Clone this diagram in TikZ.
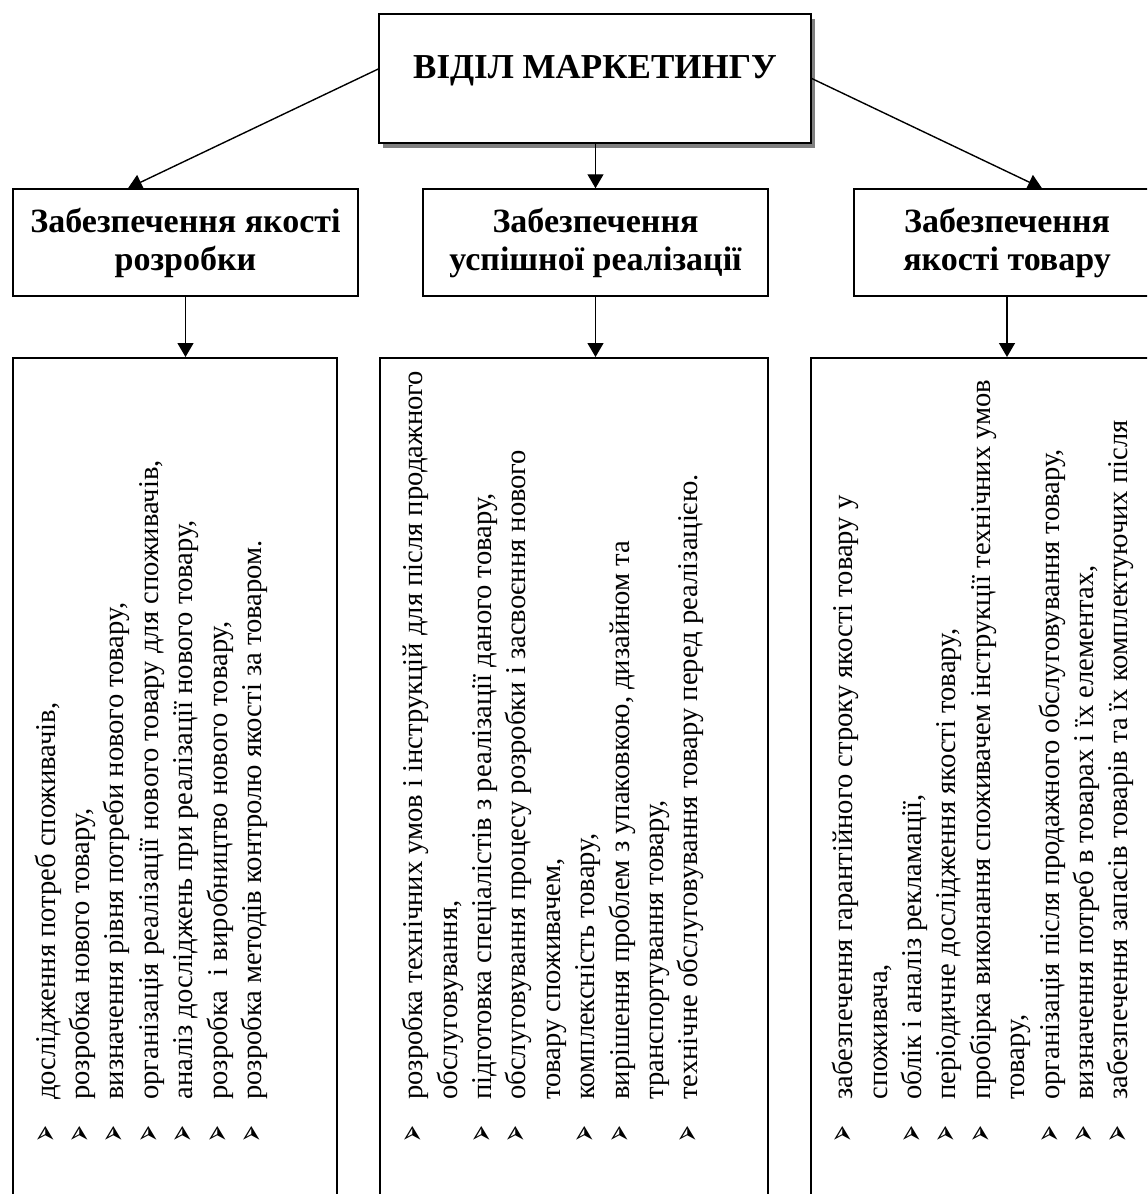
\documentclass[tikz,border=0pt]{standalone}
\usepackage{fontspec}
\setmainfont{Liberation Serif}
\newfontfamily\symfont{DejaVu Sans}
\usetikzlibrary{positioning,shadows,arrows.meta}

\newcommand{\itm}{\raisebox{-1pt}{\resizebox{8.5pt}{10pt}{\symfont\char"27A2}}}
\tikzset{
  box/.style={draw, line width=0.75pt, inner sep=0pt},
  headbox/.style={box, minimum width=172.5pt, minimum height=53.5pt, align=center,
    font=\bfseries\fontsize{17}{19}\selectfont},
  listbox/.style={box, anchor=north, minimum height=450pt},
  listtext/.style={rotate=90, anchor=west, inner sep=0pt, font=\fontsize{14.3}{17.2}\selectfont},
  link/.style={-{Triangle[length=7pt,width=8pt]}, line width=0.7pt},
}

\begin{document}
\begin{tikzpicture}[x=0.5pt, y=-0.5pt]
  \useasboundingbox (0,0) rectangle (1147,1194);
  \clip (0,0) rectangle (1147,1194);
  % top box
  \node[box, fill=white, minimum width=216pt, minimum height=64.5pt,
    text height=12pt, text depth=12pt, font=\bfseries\fontsize{17.5}{19}\selectfont,
    drop shadow={shadow xshift=2.2pt, shadow yshift=-2.5pt, fill=gray, opacity=1}]
    (market) at (595,78.5) {ВІДІЛ МАРКЕТИНГУ};
  % second level
  \node[headbox] (devq) at (185.5,242.5) {Забезпечення якості\\розробки};
  \node[headbox] (sale) at (595.5,242.5) {Забезпечення\\успішної реалізації};
  \node[headbox, minimum width=153pt] (prodq) at (1007,242.5) {Забезпечення\\якості товару};
  % lists
  \node[listbox, minimum width=162pt] (devlist) at (175,357) {};
  \node[listbox, minimum width=194pt] (salelist) at (574,357) {};
  \node[listbox, minimum width=200pt] (prodlist) at (1011,357) {};

  \node[listtext] (devtext) at (151.5,1143) {%
    \begin{tabular}{@{}p{21.5pt}@{}l@{}}
      \itm & дослідження потреб споживачів,\\
      \itm & розробка нового товару,\\
      \itm & визначення рівня потреби нового товару,\\
      \itm & організація реалізації нового товару для споживачів,\\
      \itm & аналіз досліджень при реалізації нового товару,\\
      \itm & розробка\ \ і виробництво нового товару,\\
      \itm & розробка методів контролю якості за товаром.
    \end{tabular}};
  \node[listtext] (saletext) at (553.5,1143) {%
    \begin{tabular}{@{}p{21.5pt}@{}l@{}}
      \itm & розробка технічних умов і інструкцій для після продажного\\
           & обслуговування,\\
      \itm & підготовка спеціалістів з реалізації даного товару,\\
      \itm & обслуговування процесу розробки і засвоєння нового\\
           & товару споживачем,\\
      \itm & комплексність товару,\\
      \itm & вирішення проблем з упаковкою, дизайном та\\
           & транспортування товару,\\
      \itm & технічне обслуговування товару перед реалізацією.
    \end{tabular}};
  \node[listtext] (prodtext) at (983.5,1143) {%
    \begin{tabular}{@{}p{21.5pt}@{}l@{}}
      \itm & забезпечення гарантійного строку якості товару у\\
           & споживача,\\
      \itm & облік і аналіз рекламації,\\
      \itm & періодичне дослідження якості товару,\\
      \itm & пробірка виконання споживачем інструкції технічних умов\\
           & товару,\\
      \itm & організація після продажного обслуговування товару,\\
      \itm & визначення потреб в товарах і їх елементах,\\
      \itm & забезпечення запасів товарів та їх комплектуючих після
    \end{tabular}};

  % connectors
  \draw[link] ([yshift=4.75pt]market.west) -- ([xshift=-28.75pt]devq.north);
  \draw[link] (market.south -| sale.north) -- (sale.north);
  \draw[link] (market.east) -- ([xshift=17.5pt]prodq.north);
  \draw[link] (devq.south) -- (devq.south |- devlist.north);
  \draw[link] (sale.south) -- (sale.south |- salelist.north);
  \draw[link] (prodq.south) -- (prodq.south |- prodlist.north);
\end{tikzpicture}
\end{document}
